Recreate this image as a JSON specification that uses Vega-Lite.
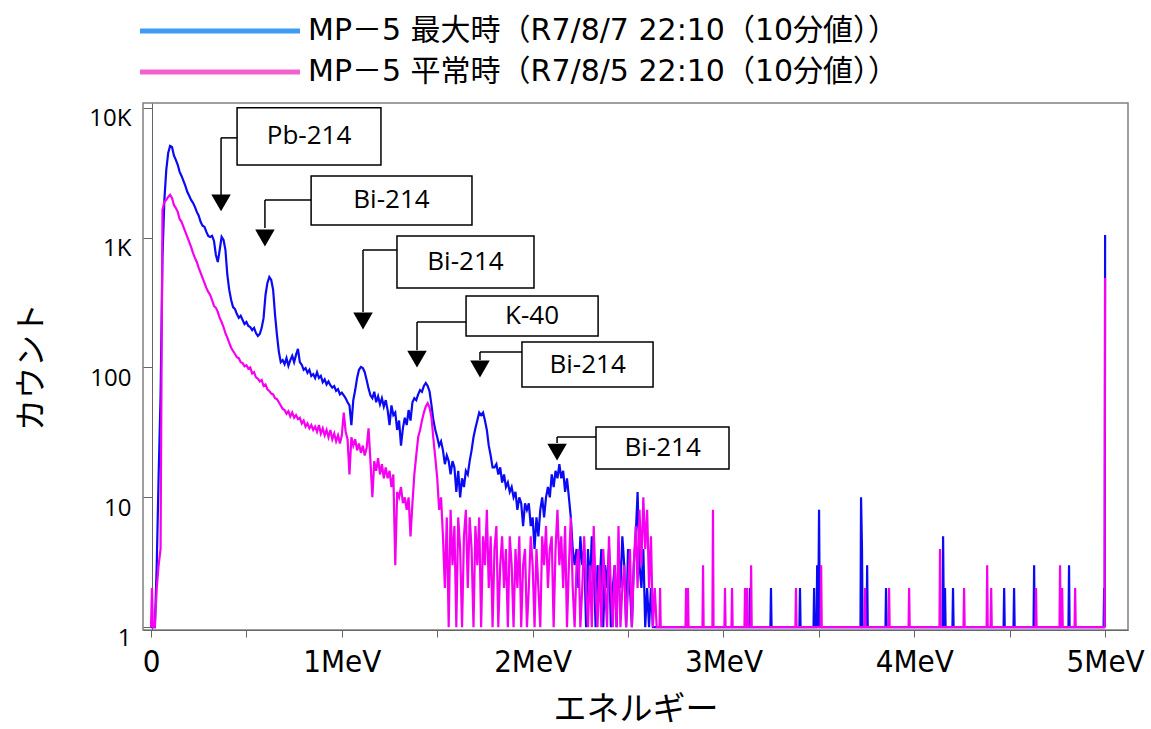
{
  "$schema": "https://vega.github.io/schema/vega-lite/v6.json",
  "width": 985,
  "height": 527,
  "autosize": "none",
  "padding": {"left": 143, "top": 103, "right": 23, "bottom": 99},
  "background": "white",
  "config": {
    "font": "Open Sans",
    "view": {"stroke": "#808080", "strokeWidth": 1.5},
    "axis": {"grid": false, "domainColor": "#666", "tickColor": "#666", "labelColor": "#000", "titleColor": "#000", "titleFontWeight": "normal"}
  },
  "datasets": {
    "mx": [
      {"e":0,"c":1},{"e":0.01,"c":1},{"e":0.02,"c":1},{"e":0.03,"c":3},{"e":0.04,"c":15},{"e":0.05,"c":60},{"e":0.06,"c":700},{"e":0.07,"c":1954},{"e":0.08,"c":3327},{"e":0.09,"c":4500},
      {"e":0.1,"c":5100},{"e":0.11,"c":5000},{"e":0.12,"c":4300},{"e":0.13,"c":3975},{"e":0.14,"c":3640},{"e":0.15,"c":3213},{"e":0.16,"c":2990},{"e":0.17,"c":2736},{"e":0.18,"c":2505},{"e":0.19,"c":2255},
      {"e":0.2,"c":2100},{"e":0.21,"c":1954},{"e":0.22,"c":1853},{"e":0.23,"c":1726},{"e":0.24,"c":1580},{"e":0.25,"c":1475},{"e":0.26,"c":1325},{"e":0.27,"c":1235},{"e":0.28,"c":1211},{"e":0.29,"c":1108},
      {"e":0.3,"c":1032},{"e":0.31,"c":1014},{"e":0.32,"c":1032},{"e":0.33,"c":944},{"e":0.34,"c":736},{"e":0.35,"c":650},{"e":0.36,"c":805},{"e":0.37,"c":1014},{"e":0.38,"c":961},{"e":0.39,"c":805},
      {"e":0.4,"c":516},{"e":0.41,"c":396},{"e":0.42,"c":331},{"e":0.43,"c":292},{"e":0.44,"c":282},{"e":0.45,"c":258},{"e":0.46,"c":241},{"e":0.47,"c":250},{"e":0.48,"c":232},{"e":0.49,"c":216},
      {"e":0.5,"c":224},{"e":0.51,"c":209},{"e":0.52,"c":205},{"e":0.53,"c":194},{"e":0.54,"c":202},{"e":0.55,"c":184},{"e":0.56,"c":175},{"e":0.57,"c":181},{"e":0.58,"c":202},{"e":0.59,"c":241},
      {"e":0.6,"c":362},{"e":0.61,"c":448},{"e":0.62,"c":498},{"e":0.63,"c":472},{"e":0.64,"c":396},{"e":0.65,"c":254},{"e":0.66,"c":178},{"e":0.67,"c":132},{"e":0.68,"c":110},{"e":0.69,"c":114},
      {"e":0.7,"c":106},{"e":0.71,"c":118},{"e":0.72,"c":103},{"e":0.73,"c":114},{"e":0.74,"c":123},{"e":0.75,"c":110},{"e":0.76,"c":125},{"e":0.77,"c":139},{"e":0.78,"c":110},{"e":0.79,"c":105},
      {"e":0.8,"c":96},{"e":0.81,"c":99},{"e":0.82,"c":91},{"e":0.83,"c":96},{"e":0.84,"c":86},{"e":0.85,"c":89},{"e":0.86,"c":83},{"e":0.87,"c":92},{"e":0.88,"c":83},{"e":0.89,"c":86},
      {"e":0.9,"c":77},{"e":0.91,"c":81},{"e":0.92,"c":74},{"e":0.93,"c":78},{"e":0.94,"c":73},{"e":0.95,"c":70},{"e":0.96,"c":72},{"e":0.97,"c":66},{"e":0.98,"c":68},{"e":0.99,"c":62},
      {"e":1,"c":64},{"e":1.01,"c":61},{"e":1.02,"c":58},{"e":1.03,"c":54},{"e":1.04,"c":51},{"e":1.05,"c":36},{"e":1.06,"c":56},{"e":1.07,"c":67},{"e":1.08,"c":83},{"e":1.09,"c":96},
      {"e":1.1,"c":101},{"e":1.11,"c":99},{"e":1.12,"c":92},{"e":1.13,"c":80},{"e":1.14,"c":69},{"e":1.15,"c":61},{"e":1.16,"c":58},{"e":1.17,"c":65},{"e":1.18,"c":54},{"e":1.19,"c":60},
      {"e":1.2,"c":52},{"e":1.21,"c":58},{"e":1.22,"c":50},{"e":1.23,"c":56},{"e":1.24,"c":47},{"e":1.25,"c":36},{"e":1.26,"c":51},{"e":1.27,"c":43},{"e":1.28,"c":45},{"e":1.29,"c":33},
      {"e":1.3,"c":39},{"e":1.31,"c":25},{"e":1.32,"c":34},{"e":1.33,"c":41},{"e":1.34,"c":36},{"e":1.35,"c":47},{"e":1.36,"c":39},{"e":1.37,"c":54},{"e":1.38,"c":58},{"e":1.39,"c":56},
      {"e":1.4,"c":62},{"e":1.41,"c":67},{"e":1.42,"c":65},{"e":1.43,"c":72},{"e":1.44,"c":76},{"e":1.45,"c":72},{"e":1.46,"c":65},{"e":1.47,"c":51},{"e":1.48,"c":39},{"e":1.49,"c":33},
      {"e":1.5,"c":29},{"e":1.51,"c":25},{"e":1.52,"c":27},{"e":1.53,"c":23},{"e":1.54,"c":18},{"e":1.55,"c":21},{"e":1.56,"c":19},{"e":1.57,"c":15},{"e":1.58,"c":19},{"e":1.59,"c":17},
      {"e":1.6,"c":11},{"e":1.61,"c":16},{"e":1.62,"c":10},{"e":1.63,"c":14},{"e":1.64,"c":12},{"e":1.65,"c":16},{"e":1.66,"c":15},{"e":1.67,"c":19},{"e":1.68,"c":23},{"e":1.69,"c":29},
      {"e":1.7,"c":34},{"e":1.71,"c":39},{"e":1.72,"c":45},{"e":1.73,"c":43},{"e":1.74,"c":45},{"e":1.75,"c":39},{"e":1.76,"c":33},{"e":1.77,"c":25},{"e":1.78,"c":21},{"e":1.79,"c":17},
      {"e":1.8,"c":17},{"e":1.81,"c":18},{"e":1.82,"c":15},{"e":1.83,"c":17},{"e":1.84,"c":13},{"e":1.85,"c":15},{"e":1.86,"c":12},{"e":1.87,"c":13},{"e":1.88,"c":11},{"e":1.89,"c":12},
      {"e":1.9,"c":10},{"e":1.91,"c":11},{"e":1.92,"c":8},{"e":1.93,"c":10},{"e":1.94,"c":9},{"e":1.95,"c":6},{"e":1.96,"c":9},{"e":1.97,"c":8},{"e":1.98,"c":9},{"e":1.99,"c":6},
      {"e":2,"c":7},{"e":2.01,"c":4},{"e":2.02,"c":7},{"e":2.03,"c":5},{"e":2.04,"c":8},{"e":2.05,"c":10},{"e":2.06,"c":7},{"e":2.07,"c":10},{"e":2.08,"c":12},{"e":2.09,"c":10},
      {"e":2.1,"c":15},{"e":2.11,"c":12},{"e":2.12,"c":16},{"e":2.13,"c":14},{"e":2.14,"c":18},{"e":2.15,"c":14},{"e":2.16,"c":16},{"e":2.17,"c":11},{"e":2.18,"c":14},{"e":2.19,"c":10},
      {"e":2.2,"c":7},{"e":2.21,"c":4},{"e":2.22,"c":3},{"e":2.23,"c":4},{"e":2.24,"c":2},{"e":2.25,"c":5},{"e":2.26,"c":3},{"e":2.27,"c":4},{"e":2.28,"c":1},{"e":2.29,"c":4},
      {"e":2.3,"c":2},{"e":2.31,"c":5},{"e":2.32,"c":3},{"e":2.33,"c":1},{"e":2.34,"c":3},{"e":2.35,"c":2},{"e":2.36,"c":4},{"e":2.37,"c":1},{"e":2.38,"c":3},{"e":2.39,"c":2},
      {"e":2.4,"c":4},{"e":2.41,"c":1},{"e":2.42,"c":2},{"e":2.43,"c":3},{"e":2.44,"c":1},{"e":2.45,"c":4},{"e":2.46,"c":2},{"e":2.47,"c":5},{"e":2.48,"c":3},{"e":2.49,"c":1},
      {"e":2.5,"c":4},{"e":2.51,"c":2},{"e":2.52,"c":1},{"e":2.53,"c":3},{"e":2.54,"c":5},{"e":2.55,"c":11},{"e":2.56,"c":3},{"e":2.57,"c":2},{"e":2.58,"c":4},{"e":2.59,"c":1},
      {"e":2.6,"c":2},{"e":2.61,"c":1},{"e":2.62,"c":2},{"e":2.63,"c":1},{"e":2.64,"c":1},
      {"e":3.136,"c":1},{"e":3.139,"c":2},{"e":3.142,"c":1},
      {"e":3.246,"c":1},{"e":3.249,"c":2},{"e":3.252,"c":1},
      {"e":3.398,"c":1},{"e":3.401,"c":2},{"e":3.404,"c":1},
      {"e":3.472,"c":1},{"e":3.475,"c":2},{"e":3.478,"c":1},
      {"e":3.488,"c":1},{"e":3.491,"c":3},{"e":3.496,"c":1},{"e":3.501,"c":8},{"e":3.505,"c":1},
      {"e":3.718,"c":1},{"e":3.721,"c":10},{"e":3.726,"c":4},{"e":3.729,"c":1},{"e":3.75,"c":1},{"e":3.753,"c":3},{"e":3.756,"c":1},
      {"e":3.849,"c":1},{"e":3.852,"c":2},{"e":3.855,"c":1},
      {"e":4.148,"c":1},{"e":4.151,"c":5},{"e":4.155,"c":1},{"e":4.158,"c":1},{"e":4.161,"c":2},{"e":4.164,"c":1},
      {"e":4.2,"c":1},{"e":4.203,"c":2},{"e":4.206,"c":1},
      {"e":4.468,"c":1},{"e":4.471,"c":2},{"e":4.474,"c":1},
      {"e":4.52,"c":1},{"e":4.523,"c":2},{"e":4.526,"c":1},
      {"e":4.625,"c":1},{"e":4.628,"c":3},{"e":4.631,"c":1},
      {"e":4.808,"c":1},{"e":4.811,"c":3},{"e":4.814,"c":1},
      {"e":4.992,"c":1},{"e":4.995,"c":2},{"e":4.998,"c":1},{"e":5,"c":1050}
    ],
    "nm": [
      {"e":0,"c":1},{"e":0.005,"c":2},{"e":0.01,"c":1},{"e":0.02,"c":1},{"e":0.03,"c":2},{"e":0.04,"c":3},{"e":0.05,"c":4},{"e":0.06,"c":1637},{"e":0.07,"c":1887},{"e":0.08,"c":1954},{"e":0.09,"c":2061},
      {"e":0.1,"c":2135},{"e":0.11,"c":2020},{"e":0.12,"c":1787},{"e":0.13,"c":1694},{"e":0.14,"c":1580},{"e":0.15,"c":1393},{"e":0.16,"c":1325},{"e":0.17,"c":1211},{"e":0.18,"c":1108},{"e":0.19,"c":1014},
      {"e":0.2,"c":927},{"e":0.21,"c":848},{"e":0.22,"c":764},{"e":0.23,"c":698},{"e":0.24,"c":650},{"e":0.25,"c":585},{"e":0.26,"c":535},{"e":0.27,"c":490},{"e":0.28,"c":448},{"e":0.29,"c":410},
      {"e":0.3,"c":382},{"e":0.31,"c":362},{"e":0.32,"c":331},{"e":0.33,"c":298},{"e":0.34,"c":288},{"e":0.35,"c":268},{"e":0.36,"c":241},{"e":0.37,"c":224},{"e":0.38,"c":205},{"e":0.39,"c":184},
      {"e":0.4,"c":170},{"e":0.41,"c":155},{"e":0.42,"c":142},{"e":0.43,"c":134},{"e":0.44,"c":127},{"e":0.45,"c":120},{"e":0.46,"c":118},{"e":0.47,"c":110},{"e":0.48,"c":108},{"e":0.49,"c":102},
      {"e":0.5,"c":104},{"e":0.51,"c":98},{"e":0.52,"c":100},{"e":0.53,"c":90},{"e":0.54,"c":92},{"e":0.55,"c":84},{"e":0.56,"c":82},{"e":0.57,"c":78},{"e":0.58,"c":80},{"e":0.59,"c":72},
      {"e":0.6,"c":74},{"e":0.61,"c":68},{"e":0.62,"c":66},{"e":0.63,"c":63},{"e":0.64,"c":62},{"e":0.65,"c":58},{"e":0.66,"c":57},{"e":0.67,"c":54},{"e":0.68,"c":51},{"e":0.69,"c":48},
      {"e":0.7,"c":47},{"e":0.71,"c":44},{"e":0.72,"c":46},{"e":0.73,"c":42},{"e":0.74,"c":45},{"e":0.75,"c":41},{"e":0.76,"c":43},{"e":0.77,"c":40},{"e":0.78,"c":41},{"e":0.79,"c":37},
      {"e":0.8,"c":39},{"e":0.81,"c":35},{"e":0.82,"c":37},{"e":0.83,"c":34},{"e":0.84,"c":36},{"e":0.85,"c":33},{"e":0.86,"c":35},{"e":0.87,"c":32},{"e":0.88,"c":36},{"e":0.89,"c":31},
      {"e":0.9,"c":34},{"e":0.91,"c":30},{"e":0.92,"c":33},{"e":0.93,"c":29},{"e":0.94,"c":33},{"e":0.95,"c":28},{"e":0.96,"c":31},{"e":0.97,"c":27},{"e":0.98,"c":30},{"e":0.99,"c":26},
      {"e":1,"c":30},{"e":1.01,"c":45},{"e":1.02,"c":32},{"e":1.03,"c":28},{"e":1.04,"c":15},{"e":1.05,"c":29},{"e":1.06,"c":25},{"e":1.07,"c":28},{"e":1.08,"c":23},{"e":1.09,"c":26},
      {"e":1.1,"c":22},{"e":1.11,"c":25},{"e":1.12,"c":21},{"e":1.13,"c":24},{"e":1.14,"c":34},{"e":1.15,"c":19},{"e":1.16,"c":10},{"e":1.17,"c":19},{"e":1.18,"c":16},{"e":1.19,"c":20},
      {"e":1.2,"c":15},{"e":1.21,"c":18},{"e":1.22,"c":14},{"e":1.23,"c":17},{"e":1.24,"c":14},{"e":1.25,"c":16},{"e":1.26,"c":12},{"e":1.27,"c":15},{"e":1.28,"c":3},{"e":1.29,"c":11},
      {"e":1.3,"c":10},{"e":1.31,"c":12},{"e":1.32,"c":9},{"e":1.33,"c":10},{"e":1.34,"c":8},{"e":1.35,"c":10},{"e":1.36,"c":5},{"e":1.37,"c":9},{"e":1.38,"c":15},{"e":1.39,"c":21},
      {"e":1.4,"c":29},{"e":1.41,"c":33},{"e":1.42,"c":39},{"e":1.43,"c":45},{"e":1.44,"c":50},{"e":1.45,"c":53},{"e":1.46,"c":49},{"e":1.47,"c":41},{"e":1.48,"c":28},{"e":1.49,"c":20},
      {"e":1.5,"c":14},{"e":1.51,"c":8},{"e":1.52,"c":10},{"e":1.53,"c":5},{"e":1.54,"c":2},{"e":1.55,"c":7},{"e":1.56,"c":1},{"e":1.57,"c":8},{"e":1.58,"c":3},{"e":1.59,"c":6},
      {"e":1.6,"c":1},{"e":1.61,"c":7},{"e":1.62,"c":4},{"e":1.63,"c":1},{"e":1.64,"c":5},{"e":1.65,"c":8},{"e":1.66,"c":2},{"e":1.67,"c":7},{"e":1.68,"c":4},{"e":1.69,"c":1},
      {"e":1.7,"c":6},{"e":1.71,"c":3},{"e":1.72,"c":7},{"e":1.73,"c":1},{"e":1.74,"c":5},{"e":1.75,"c":3},{"e":1.76,"c":8},{"e":1.77,"c":2},{"e":1.78,"c":5},{"e":1.79,"c":1},
      {"e":1.8,"c":4},{"e":1.81,"c":6},{"e":1.82,"c":1},{"e":1.83,"c":3},{"e":1.84,"c":5},{"e":1.85,"c":2},{"e":1.86,"c":4},{"e":1.87,"c":1},{"e":1.88,"c":5},{"e":1.89,"c":3},
      {"e":1.9,"c":1},{"e":1.91,"c":4},{"e":1.92,"c":2},{"e":1.93,"c":5},{"e":1.94,"c":1},{"e":1.95,"c":3},{"e":1.96,"c":4},{"e":1.97,"c":1},{"e":1.98,"c":2},{"e":1.99,"c":5},
      {"e":2,"c":3},{"e":2.01,"c":1},{"e":2.02,"c":4},{"e":2.03,"c":2},{"e":2.04,"c":1},{"e":2.05,"c":5},{"e":2.06,"c":3},{"e":2.07,"c":6},{"e":2.08,"c":2},{"e":2.09,"c":4},
      {"e":2.1,"c":5},{"e":2.11,"c":1},{"e":2.12,"c":4},{"e":2.13,"c":8},{"e":2.14,"c":3},{"e":2.15,"c":5},{"e":2.16,"c":2},{"e":2.17,"c":6},{"e":2.18,"c":1},{"e":2.19,"c":3},
      {"e":2.2,"c":7},{"e":2.21,"c":2},{"e":2.22,"c":1},{"e":2.23,"c":3},{"e":2.24,"c":4},{"e":2.25,"c":1},{"e":2.26,"c":2},{"e":2.27,"c":5},{"e":2.28,"c":2},{"e":2.29,"c":1},
      {"e":2.3,"c":3},{"e":2.31,"c":1},{"e":2.32,"c":6},{"e":2.33,"c":2},{"e":2.34,"c":1},{"e":2.35,"c":3},{"e":2.36,"c":1},{"e":2.37,"c":4},{"e":2.38,"c":2},{"e":2.39,"c":1},
      {"e":2.4,"c":5},{"e":2.41,"c":2},{"e":2.42,"c":1},{"e":2.43,"c":3},{"e":2.44,"c":1},{"e":2.45,"c":6},{"e":2.46,"c":1},{"e":2.47,"c":2},{"e":2.48,"c":3},{"e":2.49,"c":1},
      {"e":2.5,"c":2},{"e":2.51,"c":4},{"e":2.52,"c":1},{"e":2.53,"c":3},{"e":2.54,"c":6},{"e":2.55,"c":2},{"e":2.56,"c":8},{"e":2.57,"c":3},{"e":2.58,"c":10},{"e":2.59,"c":4},
      {"e":2.6,"c":8},{"e":2.61,"c":2},{"e":2.62,"c":5},{"e":2.63,"c":1},{"e":2.64,"c":2},{"e":2.65,"c":1},
      {"e":2.665,"c":1},{"e":2.668,"c":2},{"e":2.671,"c":1},
      {"e":2.801,"c":1},{"e":2.804,"c":2},{"e":2.808,"c":1},{"e":2.811,"c":1},{"e":2.814,"c":2},{"e":2.817,"c":1},
      {"e":2.89,"c":1},{"e":2.893,"c":3},{"e":2.896,"c":1},
      {"e":2.942,"c":1},{"e":2.945,"c":8},{"e":2.948,"c":1},
      {"e":3.005,"c":1},{"e":3.008,"c":2},{"e":3.011,"c":1},
      {"e":3.042,"c":1},{"e":3.045,"c":2},{"e":3.048,"c":1},
      {"e":3.11,"c":1},{"e":3.113,"c":2},{"e":3.116,"c":1},{"e":3.121,"c":1},{"e":3.124,"c":2},{"e":3.127,"c":1},{"e":3.142,"c":1},{"e":3.145,"c":3},{"e":3.148,"c":1},
      {"e":3.377,"c":1},{"e":3.38,"c":2},{"e":3.383,"c":1},
      {"e":3.509,"c":1},{"e":3.512,"c":3},{"e":3.515,"c":1},
      {"e":3.739,"c":1},{"e":3.742,"c":2},{"e":3.745,"c":1},
      {"e":3.865,"c":1},{"e":3.868,"c":2},{"e":3.871,"c":1},
      {"e":3.97,"c":1},{"e":3.973,"c":2},{"e":3.976,"c":1},
      {"e":4.132,"c":1},{"e":4.135,"c":4},{"e":4.138,"c":1},
      {"e":4.258,"c":1},{"e":4.261,"c":2},{"e":4.264,"c":1},
      {"e":4.379,"c":1},{"e":4.382,"c":3},{"e":4.385,"c":1},{"e":4.4,"c":1},{"e":4.403,"c":2},{"e":4.406,"c":1},
      {"e":4.635,"c":1},{"e":4.638,"c":2},{"e":4.641,"c":1},
      {"e":4.761,"c":1},{"e":4.764,"c":3},{"e":4.767,"c":1},{"e":4.772,"c":1},{"e":4.775,"c":2},{"e":4.778,"c":1},
      {"e":4.84,"c":1},{"e":4.843,"c":2},{"e":4.846,"c":1},
      {"e":4.997,"c":1},{"e":5,"c":490}
    ],
    "series": [
      {"s":"MP－5 最大時（R7/8/7 22:10（10分値））"},
      {"s":"MP－5 平常時（R7/8/5 22:10（10分値））"}
    ],
    "ann": [
      {"label":"Pb-214","bx1":0.451,"bx2":1.205,"by1":10000,"by2":3637,"tx":0.828,"ty":6031,"ax":0.367,"ay":5872,"vy":2135,"tri":1853},
      {"label":"Bi-214","bx1":0.839,"bx2":1.682,"by1":2992,"by2":1254,"tx":1.26,"ty":1937,"ax":0.597,"ay":1954,"vy":1189,"tri":995},
      {"label":"Bi-214","bx1":1.289,"bx2":2.007,"by1":1032,"by2":410,"tx":1.648,"ty":650,"ax":1.111,"ay":805,"vy":268,"tri":228},
      {"label":"K-40","bx1":1.651,"bx2":2.343,"by1":356,"by2":175,"tx":1.997,"ty":249,"ax":1.394,"ay":224,"vy":136,"tri":116},
      {"label":"Bi-214","bx1":1.944,"bx2":2.631,"by1":157,"by2":70.8,"tx":2.288,"ty":105,"ax":1.724,"ay":131.6,"vy":114,"tri":97.3},
      {"label":"Bi-214","bx1":2.332,"bx2":3.029,"by1":34.8,"by2":16.5,"tx":2.681,"ty":24,"ax":2.128,"ay":29.1,"vy":26.2,"tri":22.3}
    ]
  },
  "layer": [
    {
      "data": {"name": "mx"},
      "mark": {"type": "line", "strokeWidth": 2.2, "clip": true, "color": "#0a0af5"},
      "encoding": {
        "x": {"field": "e", "type": "quantitative",
          "scale": {"domain": [-0.042, 5.12], "nice": false, "zero": false},
          "axis": {"title": "エネルギー", "values": [0,0.5,1,1.5,2,2.5,3,3.5,4,4.5,5],
            "labelExpr": "datum.value % 1 === 0 ? (datum.value === 0 ? '0' : datum.value + 'MeV') : ''",
            "labelFont": "Liberation Sans Narrow, DejaVu Sans Condensed, Liberation Sans", "labelFontSize": 31,
            "labelPadding": 10, "tickSize": 7, "labelFlush": false, "labelOverlap": false,
            "titleFont": "Noto Sans CJK JP", "titleFontSize": 33, "titlePadding": 16}},
        "y": {"field": "c", "type": "quantitative",
          "scale": {"type": "log", "domain": [0.95, 10900], "nice": false},
          "axis": {"title": "カウント", "values": [1,10,100,1000,10000],
            "labelExpr": "datum.value >= 1000 ? (datum.value / 1000) + 'K' : '' + datum.value",
            "offset": -9, "tickSize": 9, "labelOffset": 11, "labelPadding": 12,
            "labelFont": "Open Sans", "labelFontSize": 24, "labelFlush": false, "labelOverlap": false,
            "titleFont": "Noto Sans CJK JP", "titleFontSize": 32, "titlePadding": 40}}
      }
    },
    {
      "data": {"name": "nm"},
      "mark": {"type": "line", "strokeWidth": 2.2, "clip": true, "color": "#f500f0"},
      "encoding": {
        "x": {"field": "e", "type": "quantitative"},
        "y": {"field": "c", "type": "quantitative"}
      }
    },
    {
      "data": {"name": "series"},
      "mark": {"type": "point", "opacity": 0},
      "encoding": {
        "color": {"field": "s", "type": "nominal",
          "scale": {"domain": ["MP－5 最大時（R7/8/7 22:10（10分値））", "MP－5 平常時（R7/8/5 22:10（10分値））"], "range": ["#3d9cf0", "#f262cc"]},
          "legend": {"orient": "none", "legendX": -5.5, "legendY": -92, "title": null, "direction": "vertical",
            "symbolType": "stroke", "symbolSize": 25600, "symbolStrokeWidth": 5, "symbolOpacity": 1, "clipHeight": 40,
            "labelFont": "DejaVu Sans, Noto Sans CJK JP", "labelFontSize": 30, "labelColor": "#000", "labelLimit": 0,
            "labelOffset": 5.5, "rowPadding": 1, "padding": 0}}
      }
    },
    {
      "data": {"name": "ann"},
      "mark": {"type": "rect", "fill": "white", "stroke": "black", "strokeWidth": 1.5},
      "encoding": {
        "x": {"field": "bx1", "type": "quantitative"}, "x2": {"field": "bx2"},
        "y": {"field": "by1", "type": "quantitative"}, "y2": {"field": "by2"}
      }
    },
    {
      "data": {"name": "ann"},
      "mark": {"type": "rule", "color": "black", "strokeWidth": 1.5},
      "encoding": {
        "x": {"field": "bx1", "type": "quantitative"}, "x2": {"field": "ax"},
        "y": {"field": "ay", "type": "quantitative"}
      }
    },
    {
      "data": {"name": "ann"},
      "mark": {"type": "rule", "color": "black", "strokeWidth": 1.5},
      "encoding": {
        "x": {"field": "ax", "type": "quantitative"},
        "y": {"field": "ay", "type": "quantitative"}, "y2": {"field": "vy"}
      }
    },
    {
      "data": {"name": "ann"},
      "mark": {"type": "point", "shape": "triangle-down", "filled": true, "color": "black", "size": 380, "opacity": 1},
      "encoding": {
        "x": {"field": "ax", "type": "quantitative"},
        "y": {"field": "tri", "type": "quantitative"}
      }
    },
    {
      "data": {"name": "ann"},
      "mark": {"type": "text", "font": "Open Sans", "fontSize": 26, "color": "black", "align": "center", "baseline": "middle"},
      "encoding": {
        "x": {"field": "tx", "type": "quantitative"},
        "y": {"field": "ty", "type": "quantitative"},
        "text": {"field": "label"}
      }
    }
  ]
}
